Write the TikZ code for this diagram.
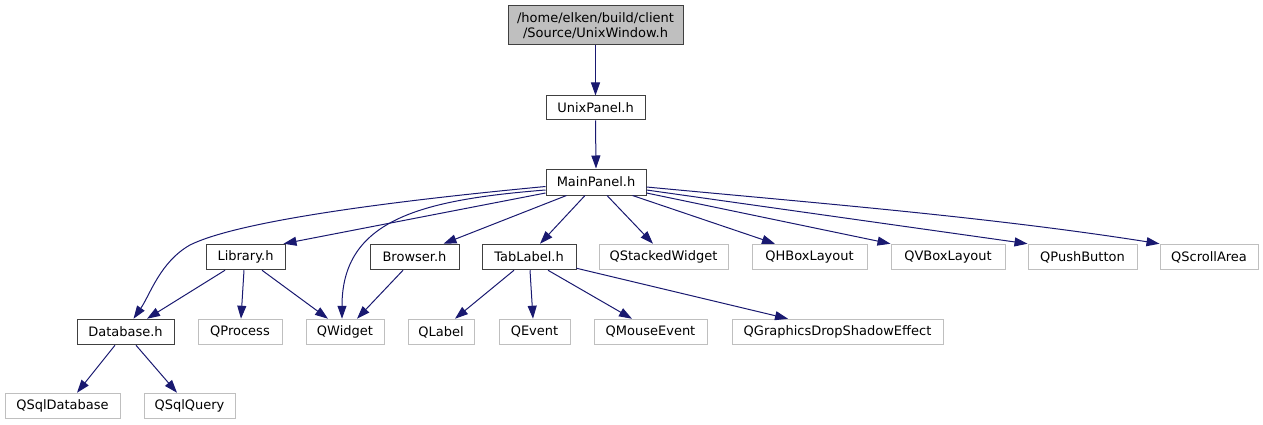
\documentclass[tikz,border=0pt]{standalone}
\usepackage{fontspec}
\setmainfont{DejaVu Sans}
\usetikzlibrary{arrows.meta,calc}
\definecolor{edgec}{HTML}{191970}
\definecolor{graybd}{HTML}{BFBFBF}
\definecolor{boxbd}{HTML}{404040}
\begin{document}
\begin{tikzpicture}[x=1pt,y=-1pt,
  box/.style={draw=boxbd, line width=1pt, rectangle, inner sep=0pt, minimum height=25.5pt, font=\fontsize{13}{15}\selectfont},
  ext/.style={box, draw=graybd},
  dep/.style={draw=edgec, line width=1pt, -{Triangle[length=13pt,width=9pt]}}]
\useasboundingbox (0,0) rectangle (1263,425);
% nodes
\node[box, fill=graybd, minimum width=175pt, minimum height=39pt, align=center] (top) at (595.5,25.5) {/home/elken/build/client\\/Source/UnixWindow.h};
\node[box, minimum width=99pt, minimum height=24pt] (unix) at (595.5,108) {UnixPanel.h};
\node[box, minimum width=100pt, minimum height=26pt] (main) at (596,182) {MainPanel.h};
\node[box, minimum width=79pt] (lib) at (245.5,257) {Library.h};
\node[box, minimum width=89pt] (browser) at (414.5,257) {Browser.h};
\node[box, minimum width=94pt] (tab) at (529,257) {TabLabel.h};
\node[ext, minimum width=129pt] (qstack) at (663.5,257) {QStackedWidget};
\node[ext, minimum width=115pt] (qhbox) at (809.5,257) {QHBoxLayout};
\node[ext, minimum width=114pt] (qvbox) at (948,257) {QVBoxLayout};
\node[ext, minimum width=109pt] (qpush) at (1082.5,257) {QPushButton};
\node[ext, minimum width=98pt] (qscroll) at (1209,257) {QScrollArea};
\node[box, minimum width=97pt] (db) at (125.5,332) {Database.h};
\node[ext, minimum width=84pt] (qprocess) at (240,332) {QProcess};
\node[ext, minimum width=78pt] (qwidget) at (345,332) {QWidget};
\node[ext, minimum width=66pt] (qlabel) at (441,332) {QLabel};
\node[ext, minimum width=71pt] (qevent) at (534.5,332) {QEvent};
\node[ext, minimum width=113pt] (qmouse) at (650.5,332) {QMouseEvent};
\node[ext, minimum width=211pt] (qgfx) at (837.5,332) {QGraphicsDropShadowEffect};
\node[ext, minimum width=115pt] (qsqldb) at (62.5,406) {QSqlDatabase};
\node[ext, minimum width=91pt] (qsqlq) at (189.5,406) {QSqlQuery};
% edges
\draw[dep] (top.south) -- (unix.north);
\draw[dep] (unix.south) -- (main.north);
\draw[dep] ($(main.west)+(0,4.5)$) .. controls (350,205) and (230,225) .. (190,245) .. controls (160,262) and (150,295) .. ($(db.north)+(8,0)$);
\draw[dep] ($(main.west)+(0,8)$) .. controls (420,200) and (342,220) .. ($(qwidget.north)+(-3,0)$);
\draw[dep] ($(main.west)+(0,11)$) -- ($(lib.north east)+(-2,0)$);
\draw[dep] ($(main.south west)+(21,0)$) -- ($(browser.north)+(29,0)$);
\draw[dep] ($(main.south)+(-11,0)$) -- ($(tab.north)+(11,0)$);
\draw[dep] ($(main.south)+(11,0)$) -- ($(qstack.north)+(-10.5,0)$);
\draw[dep] ($(main.south east)+(-14,0)$) -- ($(qhbox.north)+(-34.5,0)$);
\draw[dep] ($(main.east)+(0,11)$) -- (qvbox.north west);
\draw[dep] ($(main.east)+(0,8)$) -- (qpush.north west);
\draw[dep] ($(main.east)+(0,5)$) .. controls (816,203) and (990,217) .. (qscroll.north west);
\draw[dep] ($(lib.south)+(-20.5,0)$) -- ($(db.north)+(21.5,0)$);
\draw[dep] ($(lib.south)+(-1.5,0)$) -- ($(qprocess.north)+(1,0)$);
\draw[dep] ($(lib.south)+(16.5,0)$) -- ($(qwidget.north)+(-17,0)$);
\draw[dep] ($(browser.south)+(-11.5,0)$) -- ($(qwidget.north)+(12,0)$);
\draw[dep] ($(tab.south)+(-15,0)$) -- ($(qlabel.north)+(14,0)$);
\draw[dep] ($(tab.south)+(1,0)$) -- ($(qevent.north)+(-1.5,0)$);
\draw[dep] ($(tab.south)+(19,0)$) -- ($(qmouse.north)+(-18.5,0)$);
\draw[dep] ($(tab.south east)+(0,-2)$) -- ($(qgfx.north)+(-49.5,0)$);
\draw[dep] ($(db.south)+(-10.5,0)$) -- ($(qsqldb.north)+(14.5,0)$);
\draw[dep] ($(db.south)+(10.5,0)$) -- ($(qsqlq.north)+(-12.5,0)$);
\end{tikzpicture}
\end{document}
